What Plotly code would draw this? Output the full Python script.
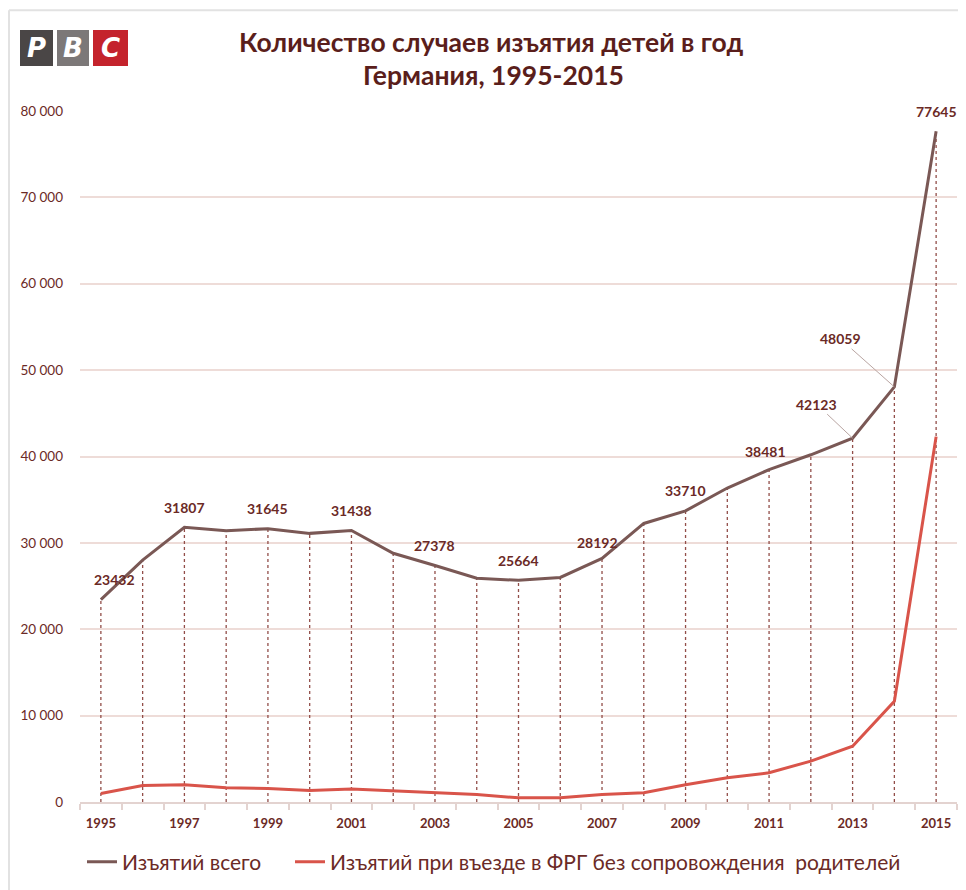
import plotly.graph_objects as go

years = list(range(1995, 2016))
total = [23432, 28000, 31807, 31400, 31645, 31100, 31438, 28800, 27378, 25900,
         25664, 26000, 28192, 32250, 33710, 36350, 38481, 40200, 42123, 48059, 77645]
unaccompanied = [980, 1900, 2000, 1650, 1560, 1330, 1500, 1290, 1100, 870,
                 480, 480, 880, 1070, 2000, 2800, 3380, 4730, 6460, 11650, 42300]
labeled_years = [1995, 1997, 1999, 2001, 2003, 2005, 2007, 2009, 2011, 2013, 2014, 2015]
y_ticks = [0, 10000, 20000, 30000, 40000, 50000, 60000, 70000, 80000]
y_ticktext = ["0", "10 000", "20 000", "30 000", "40 000", "50 000", "60 000", "70 000", "80 000"]
x_ticks = [1995, 1997, 1999, 2001, 2003, 2005, 2007, 2009, 2011, 2013, 2015]
title_lines = ["Количество случаев изъятия детей в год", "Германия, 1995-2015"]
series_names = ["Изъятий всего", "Изъятий при въезде в ФРГ без сопровождения  родителей"]

# the page body adds an 8px offset; figure is sized to fit the 966x890 window
OFF = 8
W, H = 966 - OFF, 890 - OFF
PL, PR, PT, PB = 80, 957, 111, 803   # plot area in screen pixels
ML, MR, MT, MB = PL - OFF, W - (PR - OFF), PT - OFF, H - (PB - OFF)
PW, PH = PR - PL, PB - PT


def px(x):
    return (x - PL) / PW


def py(y):
    return (PB - y) / PH


FONT = "Lato, 'Open Sans', sans-serif"
TXT = "#6b2a26"
BROWN = "#7a5855"
RED = "#d9544a"

fig = go.Figure()

# drop lines from the total series down to zero
dx, dy = [], []
for x, v in zip(years, total):
    dx += [x, x, None]
    dy += [0, v, None]
fig.add_trace(go.Scatter(x=dx, y=dy, mode="lines", showlegend=False, hoverinfo="skip",
                         line=dict(color="#924e49", width=1.3, dash="3px,3px")))

fig.add_trace(go.Scatter(x=years, y=total, mode="lines", name=series_names[0],
                         line=dict(color=BROWN, width=3), legend="legend"))
fig.add_trace(go.Scatter(x=years, y=unaccompanied, mode="lines", name=series_names[1],
                         line=dict(color=RED, width=3), legend="legend2"))

# data labels (offsets in pixels)
label_offsets = {1995: (14, 20), 2007: (-5, 16), 2011: (-4, 18)}
lab_font = dict(family=FONT, size=14, color=TXT)
for yr in labeled_years:
    v = total[years.index(yr)]
    if yr == 2013:
        fig.add_annotation(x=yr, y=v, text=f"<b>{v}</b>", showarrow=True, arrowhead=0,
                           arrowwidth=1, arrowcolor="#b9a5a2", ax=-36, ay=-34, font=lab_font)
    elif yr == 2014:
        fig.add_annotation(x=yr, y=v, text=f"<b>{v}</b>", showarrow=True, arrowhead=0,
                           arrowwidth=1, arrowcolor="#b9a5a2", ax=-54, ay=-48, font=lab_font)
    else:
        xs, ys = label_offsets.get(yr, (0, 20))
        fig.add_annotation(x=yr, y=v, text=f"<b>{v}</b>", showarrow=False,
                           xshift=xs, yshift=ys, xanchor="center", yanchor="middle", font=lab_font)

# title
for line, cx, cy in [(title_lines[0], 491, 42), (title_lines[1], 493, 75)]:
    fig.add_annotation(xref="paper", yref="paper", x=px(cx), y=py(cy), text=f"<b>{line}</b>",
                       xanchor="center", yanchor="middle", showarrow=False,
                       font=dict(family=FONT, size=26.5, color="#5a1e1b"))

# logo
logo = [("P", 20, 53, "#4a4646"), ("B", 57, 89, "#7c7878"), ("C", 93, 128, "#c4232c")]
for letter, x0, x1, col in logo:
    fig.add_shape(type="rect", xref="paper", yref="paper", x0=px(x0), x1=px(x1),
                  y0=py(66), y1=py(30), fillcolor=col, line=dict(width=0), layer="below")
    fig.add_annotation(xref="paper", yref="paper", x=px((x0 + x1) / 2), y=py(48),
                       xanchor="center", yanchor="middle",
                       text=f"<b><i>{letter}</i></b>", showarrow=False,
                       font=dict(family="'DejaVu Sans', sans-serif", size=26, color="white"))

# outer frame (left and top edges)
fig.add_shape(type="line", xref="paper", yref="paper", x0=px(9), x1=px(9), y0=py(10), y1=py(900),
              line=dict(color="#e2e2e2", width=2))
fig.add_shape(type="line", xref="paper", yref="paper", x0=px(9), x1=px(980), y0=py(10), y1=py(10),
              line=dict(color="#e2e2e2", width=2))

leg_common = dict(orientation="h", yanchor="middle", xanchor="left", itemwidth=30,
                  font=dict(family=FONT, size=21, color=TXT), bgcolor="rgba(0,0,0,0)")

fig.update_layout(
    width=W, height=H, margin=dict(l=ML, r=MR, t=MT, b=MB),
    paper_bgcolor="white", plot_bgcolor="white",
    font=dict(family=FONT, color=TXT),
    showlegend=True,
    legend=dict(x=px(82), y=py(862), **leg_common),
    legend2=dict(x=px(290), y=py(862), **leg_common),
    xaxis=dict(range=[1994.5, 2015.5], tickvals=x_ticks, ticktext=[f"<b>{t}</b>" for t in x_ticks],
               showgrid=False, zeroline=False, showline=True, linecolor="#e3d3d0", linewidth=1.5,
               ticks="", tickfont=dict(family=FONT, size=13, color=TXT), ticklabelstandoff=9,
               minor=dict(tickvals=[y + 0.5 for y in range(1994, 2016)], ticks="outside",
                          ticklen=6, tickcolor="#e3d3d0", tickwidth=1.5)),
    yaxis=dict(range=[0, 80000], tickvals=y_ticks, ticktext=y_ticktext,
               showgrid=True, gridcolor="#eedcd8", gridwidth=1.5, zeroline=False,
               showline=False, ticks="", tickfont=dict(family=FONT, size=13.5, color=TXT),
               ticklabelstandoff=16),
)

fig.write_html("out.html")
